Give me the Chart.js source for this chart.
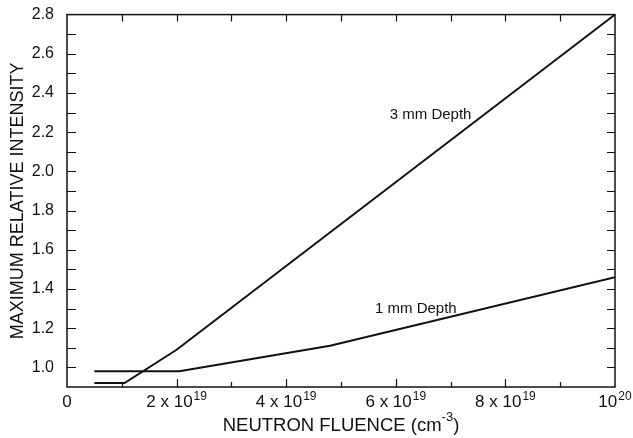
<!DOCTYPE html>
<html><head><meta charset="utf-8">
<script src="https://cdn.jsdelivr.net/npm/chart.js@4/dist/chart.umd.min.js"></script>
<style>html,body{margin:0;padding:0;background:#fff}</style>
</head><body>
<canvas id="c" width="633" height="438"></canvas>
<script>
// ---- data ----
const fluence3mm   = [0.5e19, 1.05e19, 2.0e19, 1.0e20];
const intensity3mm = [0.92, 0.92, 1.09, 2.80];
const fluence1mm   = [0.5e19, 2.05e19, 4.8e19, 1.0e20];
const intensity1mm = [0.98, 0.98, 1.11, 1.46];
const seriesLabels = ['3 mm Depth', '1 mm Depth'];
const xTickValues  = [0, 2e19, 4e19, 6e19, 8e19, 1e20];
const xTickBase    = ['0', '2 x 10', '4 x 10', '6 x 10', '8 x 10', '10'];
const xTickExp     = ['', '19', '19', '19', '19', '20'];
const xMinorValues = [1e19, 3e19, 5e19, 7e19, 9e19];
const yTickValues  = [1.0, 1.2, 1.4, 1.6, 1.8, 2.0, 2.2, 2.4, 2.6, 2.8];
const yMinorValues = [1.1, 1.3, 1.5, 1.7, 1.9, 2.1, 2.3, 2.5, 2.7];
const xTitleBase = 'NEUTRON FLUENCE (cm';
const xTitleExp = '-3';
const xTitleEnd = ')';
const yTitle = 'MAXIMUM RELATIVE INTENSITY';
// label anchors (data coords)
const labelPos = [[5.89e19, 2.29], [5.62e19, 1.30]];

const FONT = "'Liberation Sans', Arial, Helvetica, sans-serif";
const INK = '#111';

const decor = {
  id: 'decor',
  afterDatasetsDraw(chart) {
    const {ctx, chartArea: a, scales: {x, y}} = chart;
    ctx.save();
    ctx.strokeStyle = INK;
    ctx.lineWidth = 1.5;
    ctx.strokeRect(a.left, a.top, a.right - a.left, a.bottom - a.top);
    ctx.lineWidth = 1.2;
    ctx.beginPath();
    const xs = xTickValues.map(v => [v, true]).concat(xMinorValues.map(v => [v, false]));
    xs.forEach(([v, major]) => {
      const px = Math.round(x.getPixelForValue(v)) + 0.5;
      if (px <= a.left + 1 || px >= a.right - 1) return;
      ctx.moveTo(px, a.bottom); ctx.lineTo(px, a.bottom - (major ? 8 : 5));
      ctx.moveTo(px, a.top); ctx.lineTo(px, a.top + 7);
    });
    yTickValues.concat(yMinorValues).forEach(v => {
      const py = Math.round(y.getPixelForValue(v)) + 0.5;
      if (py <= a.top + 1 || py >= a.bottom - 1) return;
      ctx.moveTo(a.left, py); ctx.lineTo(a.left + 9, py);
      ctx.moveTo(a.right, py); ctx.lineTo(a.right - 8, py);
    });
    ctx.stroke();

    ctx.fillStyle = INK;
    ctx.textBaseline = 'alphabetic';
    ctx.textAlign = 'left';
    // x tick labels with superscripts
    xTickValues.forEach((v, i) => {
      const px = x.getPixelForValue(v);
      ctx.font = `17px ${FONT}`;
      const wb = ctx.measureText(xTickBase[i]).width;
      ctx.font = `12px ${FONT}`;
      const we = xTickExp[i] ? ctx.measureText(xTickExp[i]).width + 1 : 0;
      const x0 = px - (wb + we) / 2;
      ctx.font = `17px ${FONT}`;
      ctx.fillText(xTickBase[i], x0, a.bottom + 20);
      if (xTickExp[i]) {
        ctx.font = `12px ${FONT}`;
        ctx.fillText(xTickExp[i], x0 + wb + 1, a.bottom + 13);
      }
    });
    // x title
    ctx.font = `18.5px ${FONT}`;
    const w1 = ctx.measureText(xTitleBase).width;
    const w3 = ctx.measureText(xTitleEnd).width;
    ctx.font = `13px ${FONT}`;
    const w2 = ctx.measureText(xTitleExp).width;
    const cx = (a.left + a.right) / 2;
    const tx = cx - (w1 + w2 + w3) / 2;
    ctx.font = `18.5px ${FONT}`;
    ctx.fillText(xTitleBase, tx, a.bottom + 44);
    ctx.fillText(xTitleEnd, tx + w1 + w2, a.bottom + 44);
    ctx.font = `13px ${FONT}`;
    ctx.fillText(xTitleExp, tx + w1, a.bottom + 34);
    // series labels
    ctx.font = `15px ${FONT}`;
    ctx.textBaseline = 'middle';
    seriesLabels.forEach((t, i) => {
      ctx.fillText(t, x.getPixelForValue(labelPos[i][0]), y.getPixelForValue(labelPos[i][1]));
    });
    ctx.restore();
  }
};

const toPts = (xs, ys) => xs.map((v, i) => ({x: v, y: ys[i]}));

new Chart(document.getElementById('c'), {
  type: 'line',
  data: {
    datasets: [
      {label: seriesLabels[0], data: toPts(fluence3mm, intensity3mm), borderColor: INK, borderWidth: 2, pointRadius: 0, fill: false, tension: 0},
      {label: seriesLabels[1], data: toPts(fluence1mm, intensity1mm), borderColor: INK, borderWidth: 2, pointRadius: 0, fill: false, tension: 0}
    ]
  },
  options: {
    responsive: false,
    animation: false,
    devicePixelRatio: 1,
    layout: {padding: {top: 12, right: 18, left: 0, bottom: 0}},
    plugins: {legend: {display: false}, tooltip: {enabled: false}},
    scales: {
      x: {
        type: 'linear', min: 0, max: 1e20,
        grid: {display: false}, border: {display: false},
        ticks: {display: false},
        afterFit(s) { s.height = 51; }
      },
      y: {
        type: 'linear', min: 0.9, max: 2.8,
        grid: {display: false}, border: {display: false},
        afterBuildTicks(s) { s.ticks = yTickValues.map(v => ({value: v})); },
        ticks: {color: INK, padding: 5, font: {family: FONT, size: 16}, callback: v => Number(v).toFixed(1)},
        title: {display: true, text: yTitle, color: INK, font: {family: FONT, size: 18}, padding: {top: 7, bottom: 0}},
        afterFit(s) { s.width = 67; }
      }
    }
  },
  plugins: [decor]
});
</script>
</body></html>
